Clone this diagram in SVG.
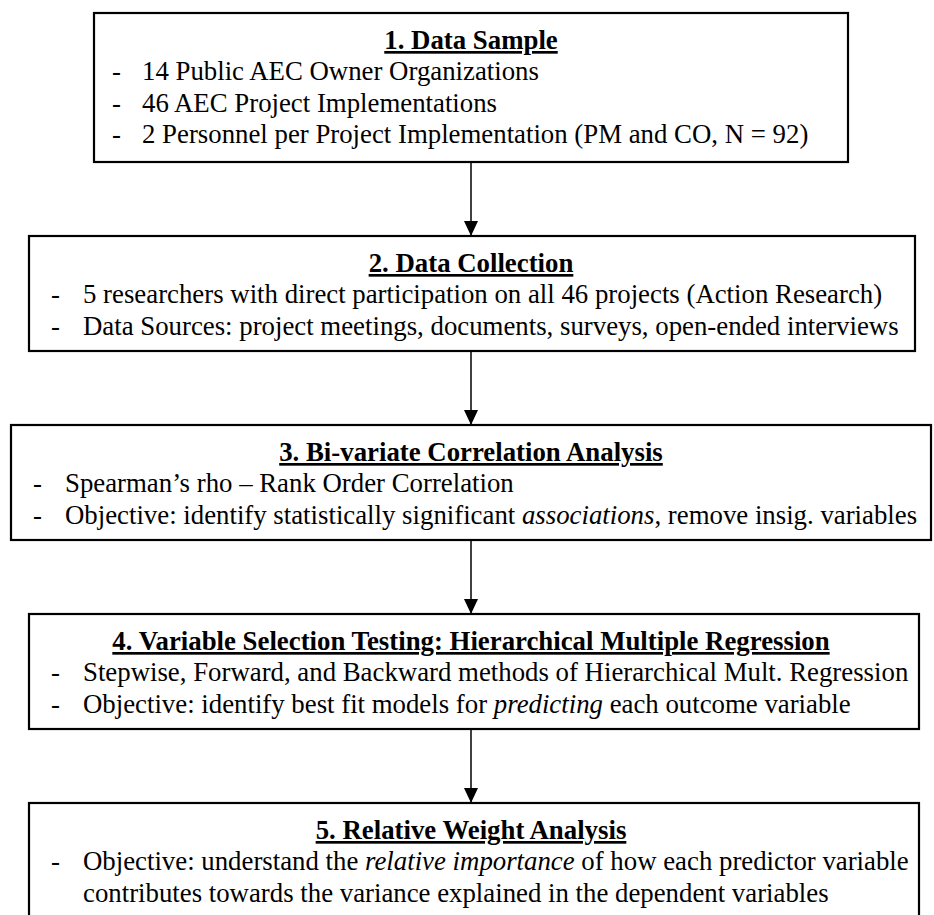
<svg xmlns="http://www.w3.org/2000/svg" width="934" height="915" viewBox="0 0 934 915">
<style>
.box{fill:#fff;stroke:#000;stroke-width:2.2}
.t{font-family:"Liberation Serif","Times New Roman",serif;font-size:26.8px;fill:#000}
.h{font-weight:bold;text-decoration:underline;text-anchor:middle}
.i{font-style:italic}
.conn{stroke:#000;stroke-width:1.5;fill:none;marker-end:url(#arr)}
</style>
<defs>
<marker id="arr" markerUnits="userSpaceOnUse" markerWidth="16" markerHeight="14" refX="15" refY="7" orient="auto">
<path d="M0,0 L15,7 L0,14 z" fill="#000"/>
</marker>
</defs>
<rect width="934" height="915" fill="#fff"/>
<g id="connectors">
<line class="conn" x1="471" y1="162" x2="471" y2="236"/>
<line class="conn" x1="471" y1="351" x2="471" y2="425"/>
<line class="conn" x1="471" y1="540" x2="471" y2="614"/>
<line class="conn" x1="471" y1="729" x2="471" y2="803"/>
</g>
<g id="node1">
<rect class="box" x="94" y="13" width="754" height="149"/>
<text class="t h" x="471" y="49">1. Data Sample</text>
<text class="t" x="112" y="80">-</text><text class="t" x="142" y="80">14 Public AEC Owner Organizations</text>
<text class="t" x="112" y="112">-</text><text class="t" x="142" y="112">46 AEC Project Implementations</text>
<text class="t" x="112" y="143">-</text><text class="t" x="142" y="143">2 Personnel per Project Implementation (PM and CO, N = 92)</text>
</g>
<g id="node2">
<rect class="box" x="29" y="236" width="886" height="115"/>
<text class="t h" x="471" y="272">2. Data Collection</text>
<text class="t" x="51" y="303">-</text><text class="t" x="83" y="303">5 researchers with direct participation on all 46 projects (Action Research)</text>
<text class="t" x="51" y="335">-</text><text class="t" x="83" y="335">Data Sources: project meetings, documents, surveys, open-ended interviews</text>
</g>
<g id="node3">
<rect class="box" x="11" y="425" width="920" height="115"/>
<text class="t h" x="471" y="461">3. Bi-variate Correlation Analysis</text>
<text class="t" x="33" y="492">-</text><text class="t" x="65" y="492">Spearman’s rho – Rank Order Correlation</text>
<text class="t" x="33" y="524">-</text><text class="t" x="65" y="524">Objective: identify statistically significant <tspan class="i">associations</tspan>, remove insig. variables</text>
</g>
<g id="node4">
<rect class="box" x="29" y="614" width="890" height="115"/>
<text class="t h" x="471" y="650">4. Variable Selection Testing: Hierarchical Multiple Regression</text>
<text class="t" x="51" y="681">-</text><text class="t" x="83" y="681">Stepwise, Forward, and Backward methods of Hierarchical Mult. Regression</text>
<text class="t" x="51" y="713">-</text><text class="t" x="83" y="713">Objective: identify best fit models for <tspan class="i">predicting</tspan> each outcome variable</text>
</g>
<g id="node5">
<rect class="box" x="29" y="803" width="890" height="135"/>
<text class="t h" x="471" y="839">5. Relative Weight Analysis</text>
<text class="t" x="51" y="870">-</text><text class="t" x="83" y="870">Objective: understand the <tspan class="i">relative importance</tspan> of how each predictor variable</text>
<text class="t" x="83" y="902">contributes towards the variance explained in the dependent variables</text>
</g>
</svg>
